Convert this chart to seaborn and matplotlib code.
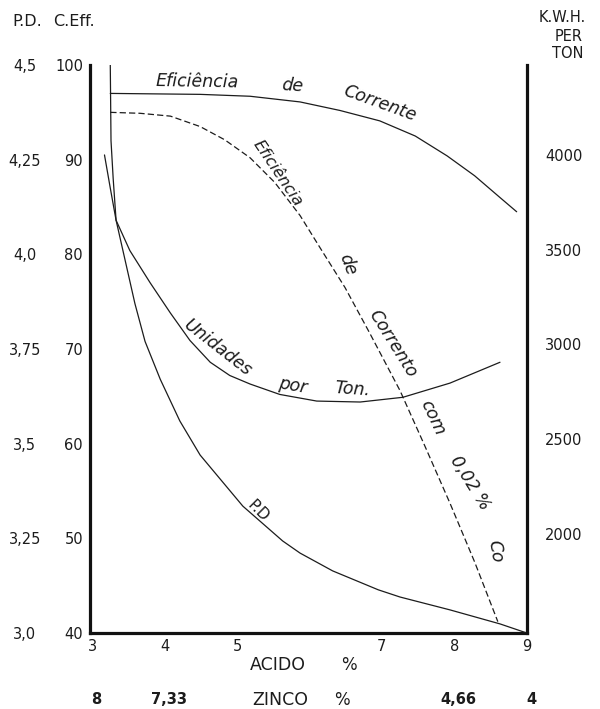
import matplotlib
matplotlib.use("Agg")
import matplotlib.pyplot as plt
import matplotlib.transforms as mtransforms
import seaborn as sns

# ---- axis scales -------------------------------------------------------
acid_ticks = [3, 4, 5, 7, 8, 9]
acid_tick_labels = ["3", "4", "5", "7", "8", "9"]
zinc_positions = [3, 4, 8, 9]
zinc_labels = ["8", "7,33", "4,66", "4"]

ceff_ticks = [40, 50, 60, 70, 80, 90, 100]
ceff_tick_labels = ["40", "50", "60", "70", "80", "90", "100"]
pd_ticks = [3.0, 3.25, 3.5, 3.75, 4.0, 4.25, 4.5]
pd_tick_labels = ["3,0", "3,25", "3,5", "3,75", "4,0", "4,25", "4,5"]
kwh_ticks = [2000, 2500, 3000, 3500, 4000]
kwh_tick_labels = ["2000", "2500", "3000", "3500", "4000"]

# ---- curves ------------------------------------------------------------
# current efficiency (%)
eff_acid = [3.25, 4.49, 5.18, 5.87, 6.42, 6.97, 7.46, 7.90, 8.28, 8.63, 8.86]
eff_val = [97.0, 96.9, 96.7, 96.1, 95.2, 94.1, 92.5, 90.4, 88.3, 86.0, 84.5]

# current efficiency with 0,02 % Co (%)
co_acid = [3.25, 3.66, 4.08, 4.49, 4.83, 5.18, 5.52, 5.87, 6.17, 6.49,
           6.83, 7.25, 7.59, 7.94, 8.28, 8.60]
co_val = [95.0, 94.9, 94.6, 93.5, 92.1, 90.2, 87.6, 84.1, 80.4, 76.5,
          71.7, 65.6, 59.8, 53.7, 47.5, 41.2]

# energy per ton (kWh)
units_acid = [3.17, 3.25, 3.33, 3.52, 3.80, 4.08, 4.35, 4.63, 4.90, 5.18,
              5.59, 6.10, 6.70, 7.29, 7.94, 8.63]
units_val = [4000, 3825, 3655, 3495, 3325, 3165, 3020, 2905, 2835, 2790,
             2735, 2700, 2695, 2720, 2795, 2905]

# potential difference (V)
pd_acid = [3.25, 3.26, 3.29, 3.33, 3.46, 3.59, 3.73, 3.94, 4.21, 4.49,
           5.08, 5.63, 5.87, 6.32, 6.95, 7.25, 7.94, 8.63, 9.0]
pd_val = [4.500, 4.300, 4.200, 4.090, 3.980, 3.870, 3.770, 3.670, 3.560,
          3.470, 3.335, 3.243, 3.211, 3.164, 3.114, 3.095, 3.061, 3.024,
          3.000]

INK = "#1c1c1c"

sns.set_theme(style="white")
plt.rcParams["font.family"] = ["DejaVu Sans"]
plt.rcParams["text.color"] = INK
plt.rcParams["xtick.color"] = INK
plt.rcParams["ytick.color"] = INK

fig = plt.figure(figsize=(6.0, 7.09), dpi=100)
ax = fig.add_axes([0.150, 0.1072, 0.728, 0.8011])

ax_pd = ax.twinx()
ax_kwh = ax.twinx()

lw = 0.9
sns.lineplot(x=eff_acid, y=eff_val, ax=ax, color=INK, lw=lw,
             estimator=None, sort=False)
sns.lineplot(x=co_acid, y=co_val, ax=ax, color=INK, lw=lw,
             estimator=None, sort=False)
ax.lines[-1].set_dashes((5, 2.5))
sns.lineplot(x=pd_acid, y=pd_val, ax=ax_pd, color=INK, lw=lw,
             estimator=None, sort=False)
sns.lineplot(x=units_acid, y=units_val, ax=ax_kwh, color=INK, lw=lw,
             estimator=None, sort=False)

xlim = (2.97, 9.0)
for a in (ax, ax_pd, ax_kwh):
    a.set_xlim(*xlim)
    a.set_xlabel("")
    a.set_ylabel("")
    for s in a.spines.values():
        s.set_visible(False)
    a.grid(False)
    a.patch.set_visible(False)

ax.set_ylim(40, 100)
ax_pd.set_ylim(3.0, 4.5)
ax_kwh.set_ylim(1475, 4475)

spine_w = 2.3
ax.spines["left"].set_visible(True)
ax.spines["bottom"].set_visible(True)
ax_kwh.spines["right"].set_visible(True)
for s in (ax.spines["left"], ax.spines["bottom"], ax_kwh.spines["right"]):
    s.set_linewidth(spine_w)
    s.set_color("#111111")
    s.set_capstyle("projecting")

tick_font = dict(fontsize=10.5)

# bottom: acid scale
ax.set_xticks(acid_ticks)
ax.set_xticklabels(acid_tick_labels, **tick_font)
ax.tick_params(axis="x", length=0, pad=4)
for a in (ax_pd, ax_kwh):
    a.tick_params(axis="x", bottom=False, top=False,
                  labelbottom=False, labeltop=False)

# left: efficiency scale
ax.set_yticks(ceff_ticks)
ax.set_yticklabels(ceff_tick_labels, **tick_font)
ax.tick_params(axis="y", length=0, pad=5)

# far left: potential difference scale
ax_pd.yaxis.tick_left()
ax_pd.set_yticks(pd_ticks)
ax_pd.set_yticklabels(pd_tick_labels, **tick_font)
ax_pd.tick_params(axis="y", length=0, pad=47, labelleft=True, labelright=False)
for lbl in ax_pd.get_yticklabels():
    lbl.set_horizontalalignment("center")

# right: energy scale
ax_kwh.yaxis.tick_right()
ax_kwh.set_yticks(kwh_ticks)
ax_kwh.set_yticklabels(kwh_tick_labels, **tick_font)
ax_kwh.tick_params(axis="y", length=0, pad=13, labelright=True, labelleft=False)

# axis headings
fig.text(0.02, 0.969, "P.D.", fontsize=11.5, ha="left", va="center")
fig.text(0.088, 0.969, "C.Eff.", fontsize=11.5, ha="left", va="center")
fig.text(0.976, 0.975, "K.W.H.", fontsize=10.5, ha="right", va="center")
fig.text(0.971, 0.948, "PER", fontsize=10.5, ha="right", va="center")
fig.text(0.973, 0.924, "TON", fontsize=10.5, ha="right", va="center")

# second row of bottom labels: acid and zinc
bt = mtransforms.blended_transform_factory(ax.transData, fig.transFigure)
ax.text(5.57, 1 - 665 / 709, "ACIDO", transform=bt, fontsize=12.5,
        ha="center", va="center")
ax.text(6.54, 1 - 665 / 709, "%", transform=bt, fontsize=12,
        ha="center", va="center")
for zx, zl in zip(zinc_positions, zinc_labels):
    ax.text(zx + 0.06, 1 - 700 / 709, zl, transform=bt, fontsize=10.5,
            ha="center", va="center", fontweight="bold")
ax.text(5.60, 1 - 700 / 709, "ZINCO", transform=bt, fontsize=12.5,
        ha="center", va="center")
ax.text(6.45, 1 - 700 / 709, "%", transform=bt, fontsize=12,
        ha="center", va="center")

# curve captions
cap = dict(fontsize=12.5, fontstyle="italic", ha="center", va="center",
           rotation_mode="anchor")
ax.text(4.45, 98.2, "Eficiência", rotation=-1, **cap)
ax.text(5.77, 97.8, "de", rotation=-4, **cap)
ax.text(6.97, 95.9, "Corrente", rotation=-20, **cap)

ax.text(5.56, 88.6, "Eficiência", rotation=-56,
        **{**cap, "fontsize": 11.5})
ax.text(6.53, 78.9, "de", rotation=-70, **cap)
ax.text(7.15, 70.6, "Corrento", rotation=-58, **cap)
ax.text(7.70, 62.7, "com", rotation=-65, **cap)
ax.text(8.21, 55.9, "0,02 %", rotation=-58, **cap)
ax.text(8.57, 48.6, "Co", rotation=-80, **cap)

ax.text(4.74, 70.1, "Unidades", rotation=-38, **cap)
ax.text(5.77, 66.1, "por", rotation=-10, **cap)
ax.text(6.59, 65.7, "Ton.", rotation=-4, **cap)

ax.text(5.29, 52.9, "P.D", rotation=-45, fontsize=11, ha="center",
        va="center", rotation_mode="anchor")

fig.savefig("out.png", dpi=100)
